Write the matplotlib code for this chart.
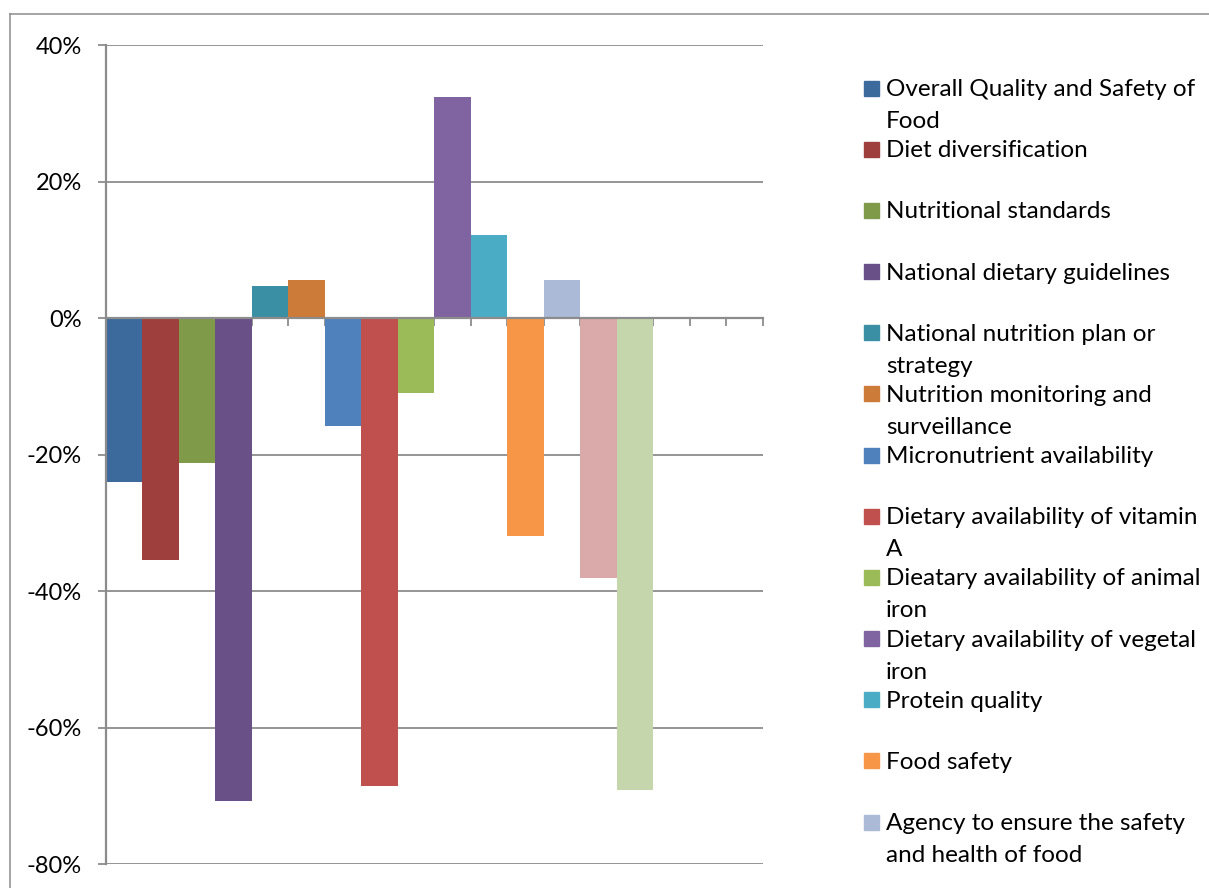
import matplotlib
matplotlib.use("Agg")
import matplotlib.pyplot as plt
from matplotlib.lines import Line2D
from matplotlib.patches import Rectangle
from matplotlib.ticker import FuncFormatter, MultipleLocator

# ---- data ----
series_names = [
    "Overall Quality and Safety of\nFood",
    "Diet diversification",
    "Nutritional standards",
    "National dietary guidelines",
    "National nutrition plan or\nstrategy",
    "Nutrition monitoring and\nsurveillance",
    "Micronutrient availability",
    "Dietary availability of vitamin\nA",
    "Dieatary availability of animal\niron",
    "Dietary availability of vegetal\niron",
    "Protein quality",
    "Food safety",
    "Agency to ensure the safety\nand health of food",
]
values = [-24.0, -35.5, -21.2, -70.8, 4.7, 5.6, -15.8, -68.6, -11.0,
          32.4, 12.2, -31.9, 5.6, -38.1, -69.2]
colors = ["#3D6A9C", "#9E3F3D", "#7F9A48", "#695087", "#3B8FA4", "#CC7B38",
          "#4F81BD", "#C0504D", "#9BBB59", "#8064A2", "#4BACC6", "#F79646",
          "#AABAD7", "#D9AAA9", "#C6D6AC"]
n_slots = 18
y_ticks = [-80, -60, -40, -20, 0, 20, 40]

W, H = 1209, 888
fig = plt.figure(figsize=(W / 100, H / 100), dpi=100)
plt.rcParams['font.family'] = ['Lato', 'DejaVu Sans']

gray = "#8C8C8C"
ax = fig.add_axes([105.7 / W, 1 - 864 / H, (763 - 105.7) / W, (864 - 45) / H])

# bars fill their whole category slot (Excel gap width 0)
ax.bar(range(len(values)), values, width=1.0, color=colors, zorder=2)

for yv in y_ticks:
    ax.axhline(yv, color=gray, lw=1.3, zorder=0)

ax.set_xlim(-0.5, n_slots - 0.5)
ax.set_ylim(-80, 40)
ax.yaxis.set_major_locator(MultipleLocator(20))
ax.yaxis.set_major_formatter(FuncFormatter(lambda v, p: f"{v:.0f}%"))
ax.set_xticks([i - 0.5 for i in range(n_slots + 1)])
ax.set_xticklabels([])

for s in ["top", "right"]:
    ax.spines[s].set_visible(False)
ax.spines["bottom"].set_position(("data", 0))
ax.spines["bottom"].set_color(gray)
ax.spines["bottom"].set_linewidth(1.6)
ax.spines["left"].set_color(gray)
ax.spines["left"].set_linewidth(1.6)
ax.spines["bottom"].set_zorder(3)
ax.tick_params(axis="x", direction="out", length=6, width=1.3, color=gray)
ax.tick_params(axis="y", direction="out", length=6, width=1.3, color=gray,
               labelsize=17, pad=11)

# chart-area frame (cropped on the right and bottom)
px = fig.transFigure.inverted()
def fpt(x, y):
    return px.transform((x, H - y))
x0, y0 = fpt(10, 14)
fig.add_artist(Line2D([x0, 1.01], [y0, y0], color=gray, lw=1.1))
fig.add_artist(Line2D([x0, x0], [y0, -0.01], color=gray, lw=1.1))

# legend, drawn Excel-style with fixed slots, wrapped lines 32 px apart
for i, name in enumerate(series_names):
    yc = 88 + i * 61.17
    rx, ry = fpt(864, yc + 7.5)
    fig.add_artist(Rectangle((rx, ry), 15 / W, 15 / H, color=colors[i],
                             transform=fig.transFigure))
    for k, line in enumerate(name.split("\n")):
        tx, ty = fpt(886, yc + 8 + k * 32)
        fig.text(tx, ty, line, fontsize=17.5, va="baseline", ha="left")

fig.savefig("out.png", dpi=100)
